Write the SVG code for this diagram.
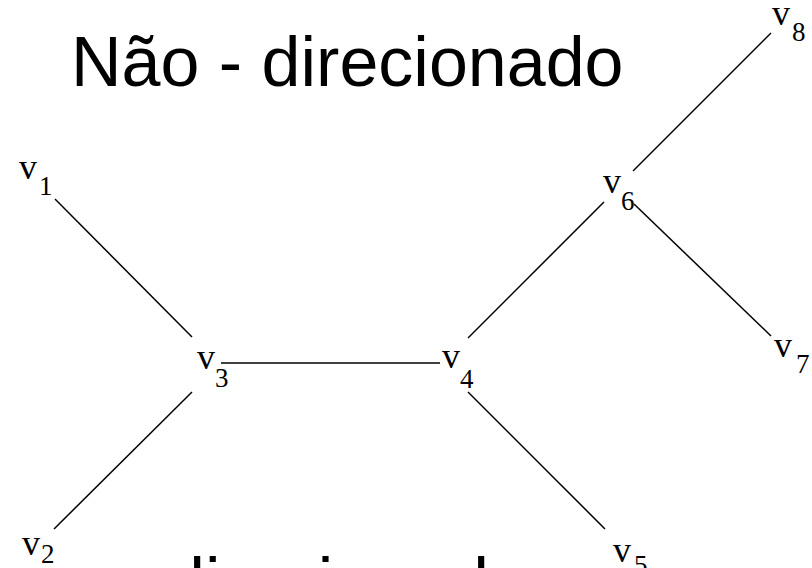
<svg xmlns="http://www.w3.org/2000/svg" width="812" height="568" viewBox="0 0 812 568">
<style>
.title{font-family:"Liberation Sans",Arial,sans-serif;font-size:70px;fill:#000}
.v{font-family:"Liberation Serif","Times New Roman",serif;font-size:36px;fill:#000}
.s{font-size:27px}
.e{stroke:#000;stroke-width:1.5;fill:none}
</style>
<rect width="812" height="568" fill="#fff"/>
<text class="title" x="71" y="86">Não - direcionado</text>
<text class="title" x="166" y="607">direcionado</text>
<g id="edges">
<line class="e" x1="55" y1="199" x2="192" y2="337"/>
<line class="e" x1="221" y1="363" x2="440" y2="363"/>
<line class="e" x1="192" y1="392" x2="54" y2="529"/>
<line class="e" x1="468" y1="392" x2="605" y2="529"/>
<line class="e" x1="468" y1="338" x2="604" y2="202"/>
<line class="e" x1="633" y1="171" x2="771" y2="33"/>
<line class="e" x1="634" y1="204" x2="771" y2="336"/>
</g>
<g id="v1"><text class="v" x="19" y="179">v<tspan class="s" x="39" y="195">1</tspan></text></g>
<g id="v2"><text class="v" x="22" y="555">v<tspan class="s" x="41" y="563">2</tspan></text></g>
<g id="v3"><text class="v" x="197" y="369">v<tspan class="s" x="215" y="387">3</tspan></text></g>
<g id="v4"><text class="v" x="442" y="368">v<tspan class="s" x="460" y="388">4</tspan></text></g>
<g id="v5"><text class="v" x="613" y="562">v<tspan class="s" x="634" y="574">5</tspan></text></g>
<g id="v6"><text class="v" x="603" y="193">v<tspan class="s" x="621" y="210">6</tspan></text></g>
<g id="v7"><text class="v" x="774" y="357">v<tspan class="s" x="796" y="373">7</tspan></text></g>
<g id="v8"><text class="v" x="772" y="25">v<tspan class="s" x="792" y="41">8</tspan></text></g>
</svg>
